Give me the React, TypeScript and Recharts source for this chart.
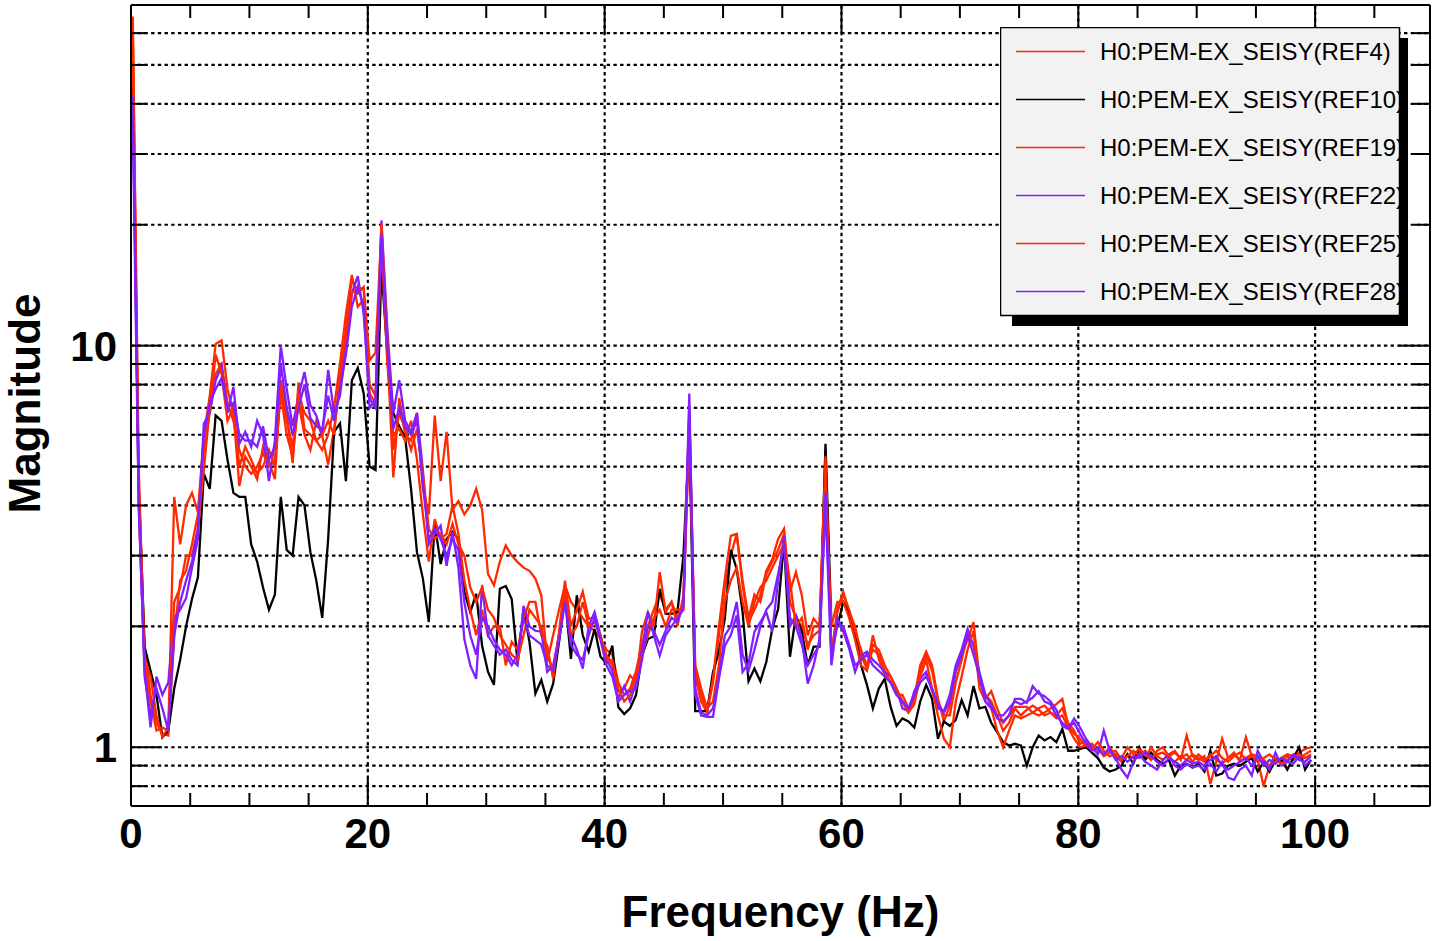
import { CartesianGrid, Line, LineChart, ReferenceLine, XAxis, YAxis } from "recharts";

// FFT bin grid of the measurement (Hz)
const FREQ_START = 0.15;
const FREQ_STEP = 0.5;

const X_MAX = 109.7;
const Y_MIN = 0.714;
const Y_MAX = 70.5;

const X_TICKS = [0, 5, 10, 15, 20, 25, 30, 35, 40, 45, 50, 55, 60, 65, 70, 75, 80, 85, 90, 95, 100, 105];
const X_LABELS = [0, 20, 40, 60, 80, 100];
const GRID_X = [20, 40, 60, 80, 100];
const Y_TICKS = [0.8, 0.9, 1, 2, 3, 4, 5, 6, 7, 8, 9, 10, 20, 30, 40, 50, 60];
const Y_LABELS = [1, 10];

const RED = "#ff2a00";
const PURPLE = "#8020ff";
const BLACK = "#000000";

const REF4 = [
  62, 4.5, 1.75, 1.35, 1.15, 1.08, 1.07, 1.9, 2.6, 2.75,
  3.2, 3.8, 5.5, 6.8, 8.5, 9.0, 7.2, 6.5, 5.5, 5.0,
  4.8, 5.0, 5.4, 5.0, 5.2, 7.6, 6.0, 5.3, 7.2, 6.0,
  5.5, 6.5, 5.96, 5.06, 6.2, 8.0, 11, 14.7, 13.5, 14.0,
  9.2, 9.6, 19.5, 9.8, 4.7, 7.4, 6.0, 5.8, 6.8, 4.4,
  3.8, 6.7, 4.6, 6.1, 3.9, 4.1, 3.8, 4.0, 4.4, 3.9,
  2.7, 2.53, 2.9, 3.18, 3.0, 2.89, 2.8, 2.75, 2.63, 2.39,
  1.63, 1.9, 2.2, 2.53, 2.3, 2.2, 2.1, 2.0, 1.95, 1.86,
  1.75, 1.7, 1.45, 1.35, 1.4, 1.55, 1.8, 2.0, 2.2, 2.4,
  2.2, 2.3, 2.1, 2.3, 6.2, 1.5, 1.3, 1.22, 1.45, 1.9,
  2.5, 3.0, 3.4, 2.6, 2.1, 2.4, 2.3, 2.7, 2.9, 3.1,
  3.4, 2.3, 2.1, 2.0, 1.8, 1.9, 1.95, 5.5, 1.7, 2.2,
  2.44, 2.17, 2.0, 1.69, 1.57, 1.9, 1.66, 1.51, 1.45, 1.38,
  1.3, 1.23, 1.32, 1.6, 1.73, 1.6, 1.32, 1.16, 1.27, 1.54,
  1.7, 1.85, 2.05, 1.48, 1.32, 1.38, 1.25, 1.15, 1.2, 1.26,
  1.26, 1.26, 1.22, 1.2, 1.22, 1.25, 1.28, 1.32, 1.13, 1.08,
  1.05, 1.0, 1.02, 0.98, 0.96, 1.0, 0.95, 0.92, 0.96, 0.94,
  0.97, 0.94, 1.0, 0.95, 0.93, 0.96, 0.98, 0.93, 1.07, 0.95,
  0.93, 0.95, 0.81, 0.92, 1.05, 0.94, 0.96, 0.93, 1.06, 0.95,
  0.93, 0.8, 0.9, 0.94, 0.92, 0.95, 0.93, 0.97, 0.99, 1.0,
];

const REF10 = [
  45, 4.5, 1.78, 1.55, 1.35, 1.06, 1.1, 1.4, 1.65, 2.0,
  2.34, 2.65, 4.8, 4.4, 6.7, 6.5, 5.2, 4.3, 4.2, 4.2,
  3.2, 2.9, 2.5, 2.2, 2.4, 4.2, 3.1, 3.0, 4.2, 4.0,
  3.06, 2.6, 2.1, 3.3, 6.1, 6.4, 4.6, 8.2, 8.8, 7.6,
  5.0, 4.9, 15.7, 9.5, 6.8, 6.3, 5.9, 4.4, 3.06, 2.63,
  2.05, 3.6, 2.86, 3.3, 3.44, 3.3, 2.44, 2.17, 2.41, 1.79,
  1.54, 1.43, 2.48, 2.52, 2.34, 1.62, 2.21, 1.83, 1.36, 1.47,
  1.3, 1.44, 1.83, 2.37, 1.66, 2.39, 1.9, 1.73, 1.97, 1.68,
  1.62, 1.79, 1.26, 1.21, 1.25, 1.35, 1.69, 1.86, 1.89, 2.48,
  2.15, 2.15, 2.17, 3.0, 6.0, 1.23, 1.23, 1.23, 1.54, 1.73,
  2.09, 3.1, 2.78, 2.17, 1.46, 1.57, 1.46, 1.63, 1.97, 2.21,
  3.26, 1.68, 2.13, 1.94, 1.6, 1.78, 1.78, 5.7, 2.01, 2.0,
  2.3, 2.17, 1.9, 1.6, 1.43, 1.25, 1.4, 1.48, 1.26, 1.13,
  1.18, 1.16, 1.12, 1.3, 1.43, 1.32, 1.05, 1.16, 1.13, 1.17,
  1.31, 1.2, 1.42, 1.25, 1.26, 1.15, 1.09, 1.03, 1.01, 1.02,
  1.01, 0.9, 1.0, 1.07, 1.04, 1.06, 1.03, 1.11, 0.98, 0.98,
  0.99, 1.0, 0.97, 0.94, 0.89, 0.87, 0.88, 0.9, 0.96, 0.91,
  1.0, 0.93, 0.97, 0.93, 0.91, 0.93, 0.85, 0.9, 0.91, 0.89,
  0.91, 0.87, 0.98, 0.85, 0.86, 0.9, 0.91, 0.9, 0.92, 0.94,
  0.87, 0.92, 0.87, 0.93, 0.93, 0.88, 0.94, 1.0, 0.88, 0.93,
];

const REF19 = [
  55, 4.0, 1.6, 1.3, 1.1, 1.12, 1.1, 4.2, 3.2, 4.0,
  4.3, 3.85, 5.96, 7.5, 10.1, 10.3, 7.8, 6.8, 4.47, 5.3,
  5.0, 4.65, 5.6, 5.15, 4.65, 8.2, 6.8, 5.1, 8.1, 6.2,
  6.0, 5.8, 5.5, 6.0, 7.0, 9.0, 12, 15.0, 12.5, 13.0,
  7.6, 7.2, 18, 9.0, 6.0, 6.2, 5.8, 6.5, 5.2, 3.8,
  2.9, 3.7, 3.3, 3.4, 4.0, 3.4, 2.6, 2.2, 1.9, 2.2,
  1.9, 2.0, 2.0, 1.6, 1.83, 1.75, 2.09, 2.3, 2.3, 1.9,
  1.79, 1.48, 1.94, 2.6, 2.0, 2.2, 2.44, 2.09, 2.1, 1.86,
  1.7, 1.6, 1.38, 1.4, 1.51, 1.45, 1.94, 2.17, 2.0, 2.73,
  2.17, 2.3, 2.0, 2.39, 6.8, 1.54, 1.35, 1.23, 1.48, 2.0,
  2.63, 3.36, 3.4, 2.53, 2.05, 2.2, 2.39, 2.75, 2.94, 3.3,
  3.5, 2.44, 2.73, 2.39, 1.9, 2.09, 2.0, 5.3, 1.69, 2.17,
  2.4, 2.2, 1.95, 1.75, 1.6, 1.75, 1.7, 1.55, 1.45, 1.35,
  1.35, 1.25, 1.3, 1.55, 1.7, 1.55, 1.3, 1.2, 1.2, 1.45,
  1.65, 1.9, 1.8, 1.5, 1.35, 1.3, 1.2, 1.1, 1.15, 1.25,
  1.2, 1.24, 1.27, 1.24, 1.2, 1.22, 1.2, 1.25, 1.15, 1.1,
  1.02, 1.04, 0.98, 1.0, 0.95, 0.97, 0.98, 0.93, 0.95, 0.98,
  0.95, 0.98, 0.94, 0.96, 0.97, 0.94, 0.92, 0.95, 0.93, 0.96,
  0.94, 0.92, 0.96, 0.93, 0.91, 0.94, 0.97, 0.92, 0.94, 0.96,
  0.95, 0.93, 0.9, 0.92, 0.94, 0.96, 0.95, 0.94, 0.96, 0.98,
];

const REF22 = [
  36, 4.0, 1.55, 1.12, 1.5, 1.35, 1.45, 2.1, 2.2, 2.35,
  2.8, 3.3, 6.4, 6.8, 8.2, 8.9, 6.8, 7.9, 5.7, 6.1,
  5.6, 6.5, 6.0, 4.6, 5.8, 10, 7.8, 6.3, 7.5, 8.6,
  7.1, 6.7, 5.96, 8.7, 6.8, 7.5, 10, 13.5, 14.9, 12,
  7.4, 7.0, 20.5, 11, 6.8, 8.2, 6.5, 6.1, 6.8, 4.9,
  3.2, 3.4, 3.56, 2.83, 3.43, 2.8, 1.86, 1.6, 1.48, 2.53,
  1.9, 1.79, 1.7, 1.75, 1.65, 1.6, 2.25, 2.0, 1.95, 1.94,
  1.54, 1.6, 1.9, 2.34, 1.9, 1.75, 1.57, 2.0, 2.17, 1.9,
  1.66, 1.55, 1.32, 1.42, 1.3, 1.45, 1.75, 2.17, 1.9, 1.69,
  1.9, 2.0, 2.1, 2.2, 7.6, 1.35, 1.2, 1.19, 1.19, 1.48,
  1.79, 1.9, 2.13, 1.54, 1.62, 1.94, 2.05, 2.17, 1.94, 2.6,
  3.36, 2.0, 2.13, 1.86, 1.44, 1.6, 1.86, 4.0, 1.6, 2.09,
  1.94, 1.76, 1.54, 1.69, 1.73, 1.65, 1.6, 1.54, 1.5, 1.4,
  1.25, 1.23, 1.38, 1.48, 1.54, 1.38, 1.25, 1.23, 1.35, 1.6,
  1.75, 1.97, 1.79, 1.54, 1.35, 1.27, 1.18, 1.16, 1.2, 1.32,
  1.32, 1.29, 1.42, 1.36, 1.34, 1.3, 1.24, 1.13, 1.11, 1.18,
  1.12, 1.05, 1.0, 0.96, 1.1, 0.98, 0.94, 0.88, 0.84, 0.92,
  0.96, 0.92, 0.9, 0.88, 0.93, 0.96, 0.9, 0.88, 0.91, 0.89,
  0.9, 0.88, 0.91, 0.87, 0.92, 0.84, 0.83, 0.88, 0.9, 0.85,
  0.98, 0.92, 0.88, 0.97, 0.9, 0.92, 0.91, 0.95, 0.9, 0.93,
];

const REF25 = [
  66, 5.0, 1.65, 1.5, 1.2, 1.06, 1.12, 2.3, 2.5, 3.0,
  3.0, 3.5, 4.9, 7.0, 9.5, 8.5, 6.5, 7.0, 5.0, 5.6,
  5.2, 4.8, 5.0, 5.5, 5.0, 8.0, 6.5, 5.6, 7.6, 6.8,
  6.5, 5.8, 6.0, 6.5, 6.0, 8.5, 10.5, 13.5, 14.0, 13.8,
  8.0, 7.5, 20.2, 10.5, 5.5, 6.8, 6.2, 5.5, 6.2, 4.8,
  3.5, 3.3, 3.4, 3.2, 3.6, 3.2, 3.0, 2.5, 2.3, 2.5,
  2.2, 2.1, 1.9, 1.8, 1.7, 1.65, 1.9, 2.2, 2.1, 2.0,
  1.7, 1.55, 1.9, 2.45, 1.9, 2.0, 2.3, 2.0, 2.05, 1.9,
  1.65, 1.65, 1.4, 1.3, 1.35, 1.5, 1.7, 1.9, 2.1, 2.2,
  2.0, 2.2, 2.2, 2.2, 6.5, 1.6, 1.4, 1.25, 1.3, 1.6,
  2.3, 2.6, 2.8, 2.3, 2.0, 2.3, 2.5, 2.6, 2.8, 3.0,
  3.2, 2.6, 2.0, 2.1, 1.75, 2.0, 2.0, 4.7, 2.0, 2.3,
  2.3, 2.1, 1.85, 1.6, 1.55, 1.8, 1.75, 1.6, 1.5, 1.4,
  1.3, 1.22, 1.28, 1.5, 1.65, 1.4, 1.2, 1.05, 1.0, 1.3,
  1.5, 1.75, 1.95, 1.4, 1.3, 1.25, 1.1, 1.0, 1.1, 1.2,
  1.18, 1.2, 1.22, 1.25, 1.27, 1.22, 1.18, 1.2, 1.12, 1.05,
  1.0, 1.01, 0.99, 1.03, 0.98, 0.95, 0.96, 0.94, 1.0, 0.96,
  0.99, 0.96, 0.93, 0.98, 1.0, 0.95, 0.97, 0.94, 0.96, 0.92,
  0.96, 0.93, 0.95, 0.98, 0.94, 0.92, 0.95, 0.97, 0.93, 0.95,
  0.92, 0.94, 0.96, 0.93, 0.91, 0.93, 0.95, 0.96, 0.94, 0.96,
];

const REF28 = [
  42, 4.2, 1.5, 1.2, 1.4, 1.25, 1.1, 1.9, 2.3, 2.6,
  2.9, 3.5, 6.0, 7.2, 7.8, 8.3, 7.0, 7.2, 6.0, 5.8,
  5.8, 5.6, 6.3, 5.2, 5.6, 9.0, 7.0, 6.0, 7.0, 8.0,
  6.6, 6.3, 6.2, 7.5, 6.5, 7.8, 9.5, 12.5, 14.0, 12.5,
  7.0, 7.3, 19, 10, 6.2, 7.0, 6.3, 6.0, 6.5, 4.5,
  3.3, 3.5, 3.3, 3.0, 3.3, 3.1, 2.3, 1.9, 1.7, 2.1,
  2.0, 1.85, 1.75, 1.7, 1.6, 1.7, 2.1, 1.9, 1.85, 1.8,
  1.6, 1.55, 1.85, 2.3, 1.8, 1.7, 1.65, 1.9, 2.1, 1.85,
  1.6, 1.5, 1.3, 1.35, 1.38, 1.4, 1.65, 2.0, 1.95, 1.8,
  1.95, 2.1, 2.05, 2.25, 7.0, 1.4, 1.22, 1.2, 1.25, 1.5,
  1.9, 2.0, 2.3, 1.7, 1.55, 1.75, 2.0, 2.2, 2.3, 2.7,
  3.2, 2.1, 2.0, 1.8, 1.6, 1.7, 1.8, 4.3, 1.7, 2.0,
  2.0, 1.8, 1.6, 1.65, 1.7, 1.6, 1.55, 1.5, 1.45, 1.35,
  1.3, 1.25, 1.35, 1.45, 1.5, 1.4, 1.28, 1.22, 1.3, 1.55,
  1.7, 1.9, 1.7, 1.5, 1.3, 1.25, 1.2, 1.2, 1.25, 1.3,
  1.28, 1.3, 1.33, 1.38, 1.3, 1.28, 1.2, 1.15, 1.12, 1.15,
  1.08, 1.02, 0.98, 1.0, 0.96, 0.99, 0.93, 0.95, 0.92, 0.95,
  0.94, 0.97, 0.95, 0.92, 0.9, 0.94, 0.92, 0.9, 0.93, 0.91,
  0.92, 0.9, 0.93, 0.95, 0.9, 0.88, 0.9, 0.92, 0.94, 0.9,
  0.95, 0.9, 0.93, 0.91, 0.94, 0.92, 0.96, 0.93, 0.92, 0.95,
];

const SERIES = [
  { key: "REF4", name: "H0:PEM-EX_SEISY(REF4)", color: RED, values: REF4 },
  { key: "REF10", name: "H0:PEM-EX_SEISY(REF10)", color: BLACK, values: REF10 },
  { key: "REF19", name: "H0:PEM-EX_SEISY(REF19)", color: RED, values: REF19 },
  { key: "REF22", name: "H0:PEM-EX_SEISY(REF22)", color: PURPLE, values: REF22 },
  { key: "REF25", name: "H0:PEM-EX_SEISY(REF25)", color: RED, values: REF25 },
  { key: "REF28", name: "H0:PEM-EX_SEISY(REF28)", color: PURPLE, values: REF28 },
];

const data = REF10.map((_, i) => {
  const row: Record<string, number> = { freq: FREQ_START + i * FREQ_STEP };
  SERIES.forEach((s) => {
    row[s.key] = s.values[i];
  });
  return row;
});

const FONT = "'Liberation Sans', Arial, Helvetica, sans-serif";

// frame edges of the plot area (set by the chart margin / axis sizes below)
const CHART_W = 1434;
const CHART_H = 941;
const MARGIN = { top: 5, right: 4, bottom: 0, left: 0 };
const PLOT_TOP = MARGIN.top;
const PLOT_RIGHT = CHART_W - MARGIN.right;

// bottom ticks, mirrored on the top edge
function BottomTick(props: any) {
  const { x, y, payload } = props;
  const len = payload.value % 20 === 0 ? 28 : 13;
  return (
    <g>
      <line x1={x} x2={x} y1={y} y2={y - len} stroke="#000" strokeWidth={2} />
      <line x1={x} x2={x} y1={PLOT_TOP} y2={PLOT_TOP + len} stroke="#000" strokeWidth={2} />
      {X_LABELS.includes(payload.value) && (
        <text x={x} y={y + 42} textAnchor="middle" fontSize={42} fontWeight="bold" fontFamily={FONT} fill="#000">
          {payload.value}
        </text>
      )}
    </g>
  );
}

// left ticks, mirrored on the right edge
function LeftTick(props: any) {
  const { x, y, payload } = props;
  const major = Y_LABELS.includes(payload.value);
  const len = major ? 31 : 16;
  return (
    <g>
      <line x1={x} x2={x + len} y1={y} y2={y} stroke="#000" strokeWidth={2} />
      <line x1={PLOT_RIGHT} x2={PLOT_RIGHT - len} y1={y} y2={y} stroke="#000" strokeWidth={2} />
      {major && (
        <text x={x - 14} y={y + 15} textAnchor="end" fontSize={42} fontWeight="bold" fontFamily={FONT} fill="#000">
          {payload.value}
        </text>
      )}
    </g>
  );
}

function XTitle(props: any) {
  const { viewBox } = props;
  return (
    <text
      x={viewBox.x + viewBox.width / 2}
      y={viewBox.y + viewBox.height - 14}
      textAnchor="middle"
      fontSize={44}
      fontWeight="bold"
      fontFamily={FONT}
      fill="#000"
    >
      Frequency (Hz)
    </text>
  );
}

function YTitle(props: any) {
  const { viewBox } = props;
  const cx = 40;
  const cy = viewBox.y + viewBox.height / 2 - 2;
  return (
    <text
      x={cx}
      y={cy}
      transform={`rotate(-90, ${cx}, ${cy})`}
      textAnchor="middle"
      fontSize={44}
      fontWeight="bold"
      fontFamily={FONT}
      fill="#000"
    >
      Magnitude
    </text>
  );
}

function LegendBox() {
  return (
    <svg width={420} height={310} style={{ position: "absolute", left: 1000, top: 27 }}>
      <defs>
        <clipPath id="legend-clip">
          <rect x={0} y={0} width={399} height={288} />
        </clipPath>
      </defs>
      <rect x={12} y={11} width={396} height={288} fill="#000" />
      <rect x={0.5} y={0.5} width={399} height={288} fill="#f2f2f2" stroke="#000" strokeWidth={1.5} />
      <g clipPath="url(#legend-clip)">
        {SERIES.map((s, i) => (
          <g key={s.key}>
            <line x1={16} x2={85} y1={24.5 + 48 * i} y2={24.5 + 48 * i} stroke={s.color} strokeWidth={1.6} />
            <text x={100} y={32.5 + 48 * i} fontSize={24} fontFamily={FONT} fill="#000">
              {s.name}
            </text>
          </g>
        ))}
      </g>
    </svg>
  );
}

// vertical grid only at the labelled frequencies
function gridX(props: any) {
  const xAxis = props.xAxis;
  if (xAxis && typeof xAxis.scale === "function") {
    return GRID_X.map((v) => xAxis.scale(v));
  }
  const off = props.offset;
  return GRID_X.map((v) => off.left + (off.width * v) / X_MAX);
}

export default function App() {
  const axisLine = { stroke: "#000", strokeWidth: 2 };
  return (
    <div style={{ position: "absolute", left: 0, top: 0, width: CHART_W, height: CHART_H, background: "#fff" }}>
      <LineChart width={CHART_W} height={CHART_H} data={data} margin={MARGIN}>
        <CartesianGrid stroke="#000" strokeWidth={2.2} strokeDasharray="3.4 3.3" verticalCoordinatesGenerator={gridX} />
        <XAxis
          dataKey="freq"
          type="number"
          domain={[0, X_MAX]}
          allowDataOverflow
          ticks={X_TICKS}
          interval={0}
          height={135}
          tickSize={0}
          tickMargin={0}
          tick={BottomTick}
          tickLine={false}
          axisLine={axisLine}
          label={{ content: XTitle }}
        />
        <YAxis
          type="number"
          scale="log"
          domain={[Y_MIN, Y_MAX]}
          allowDataOverflow
          ticks={Y_TICKS}
          interval={0}
          width={131}
          tickSize={0}
          tickMargin={0}
          tick={LeftTick}
          tickLine={false}
          axisLine={axisLine}
          label={{ content: YTitle }}
        />
        <ReferenceLine y={Y_MAX} stroke="#000" strokeWidth={2} ifOverflow="visible" />
        <ReferenceLine x={X_MAX} stroke="#000" strokeWidth={2} ifOverflow="visible" />
        {SERIES.map((s) => (
          <Line
            key={s.key}
            dataKey={s.key}
            name={s.name}
            type="linear"
            stroke={s.color}
            strokeWidth={2.3}
            dot={false}
            activeDot={false}
            isAnimationActive={false}
          />
        ))}
      </LineChart>
      <LegendBox />
    </div>
  );
}
